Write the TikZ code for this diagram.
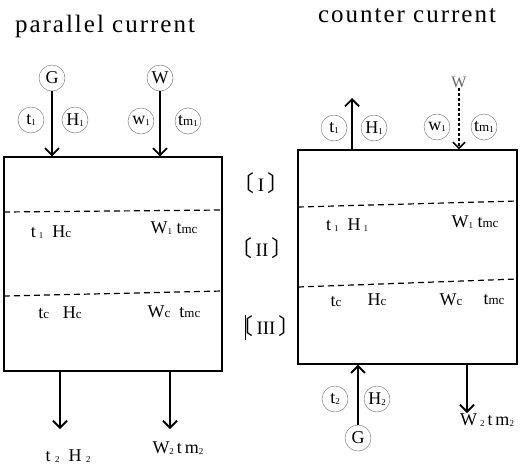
\documentclass[tikz,border=0pt]{standalone}
\usepackage{fontspec}
\setmainfont{Liberation Serif}
\newfontfamily\cjk{Noto Sans CJK JP}
\usetikzlibrary{arrows.meta}
\newcommand{\dsb}[1]{\raisebox{-0.15ex}{\fontsize{9}{9}\selectfont #1}}
\newcommand{\lsb}[1]{{\fontsize{13}{13}\selectfont #1}}
\newcommand{\brk}[1]{{\cjk\fontsize{22}{22}\selectfont 〔}\,#1\,{\cjk\fontsize{22}{22}\selectfont 〕}}
\begin{document}
\begin{tikzpicture}[x=1pt,y=-1pt,
  box/.style={draw, line width=1.4pt, inner sep=0pt},
  arr/.style={line width=1.8pt, -{Straight Barb[length=7pt,width=14pt,line width=1.8pt]}},
  circ/.style={circle, draw=black!50, line width=0.5pt, inner sep=0pt, minimum size=26pt, font=\fontsize{18}{18}\selectfont},
  lbl/.style={font=\fontsize{18}{18}\selectfont, inner sep=0pt},
  ttl/.style={font=\fontsize{25}{25}\selectfont\addfontfeature{LetterSpace=8}, inner sep=0pt},
  sepline/.style={dash pattern=on 6pt off 4pt, line width=1.2pt},
  rom/.style={font=\fontsize{19}{19}\selectfont, inner sep=0pt}]
\useasboundingbox (0,0) rectangle (521,467);

% titles
\node[ttl] (tl) at (105,26) {parallel current};
\node[ttl] (tr) at (407,16) {counter current};

% boxes
\node[box, minimum width=218pt, minimum height=214pt] (L) at (113,264) {};
\node[box, minimum width=219pt, minimum height=214pt] (R) at (407.5,257) {};

% dashed separators
\coordinate (la1) at (4,212); \coordinate (lb1) at (222,210);
\coordinate (la2) at (4,296); \coordinate (lb2) at (222,291);
\draw[sepline] (la1) -- (lb1);
\draw[sepline] (la2) -- (lb2);
\coordinate (ra1) at (298,207); \coordinate (rb1) at (517,201);
\coordinate (ra2) at (298,287); \coordinate (rb2) at (517,279);
\draw[sepline] (ra1) -- (rb1);
\draw[sepline] (ra2) -- (rb2);

% section labels
\node[rom] (s1) at (261,183) {\brk{I}};
\node[rom] (s2) at (262,248) {\brk{II}};
\node[rom] (s3) at (266,326) {\brk{III}};
\coordinate (bar1) at (245,315); \coordinate (bar2) at (245,340);
\draw[line width=1pt] (bar1) -- (bar2);

% ---- left top inputs
\node[circ] (G1) at (52,78) {G};
\node[circ] (W1) at (160,78) {W};
\draw[arr] (G1) -- (G1 |- L.north);
\draw[arr] (W1) -- (W1 |- L.north);
\node[circ] (t1a) at (31,120) {t\dsb{1}};
\node[circ] (H1a) at (75,120) {H\dsb{1}};
\node[circ] (w1a) at (141,121) {w\dsb{1}};
\node[circ] (tm1a) at (188,121) {t\lsb{m}\dsb{1}};

% ---- left inside
\node[lbl] (la) at (51,232) {t\,\dsb{1}\ \ H\lsb{c}};
\node[lbl] (lb) at (174,228) {W\dsb{1}\ t\lsb{mc}};
\node[lbl] (lc) at (60,313) {t\lsb{c}\ \ \ H\lsb{c}};
\node[lbl] (ld) at (174,312) {W\lsb{c}\ \ t\lsb{mc}};

% ---- left bottom outputs
\node[lbl] (o1) at (68,456) {t\ \dsb{2}\ \ H\ \dsb{2}};
\node[lbl] (o2) at (178,448) {W\dsb{2}\,t\,m\dsb{2}};
\coordinate (e1) at (60,429);
\coordinate (e2) at (170,429);
\draw[arr] (e1 |- L.south) -- (e1);
\draw[arr] (e2 |- L.south) -- (e2);

% ---- right top
\coordinate (up1) at (352,98);
\draw[arr] (up1 |- R.north) -- (up1);
\node[circ] (t1b) at (334,128) {t\dsb{1}};
\node[circ] (H1b) at (374,128) {H\dsb{1}};
\node[lbl, text=black!60, font=\fontsize{16}{16}\selectfont] (W2) at (459,82) {W};
\draw[line width=1.1pt, densely dashed, -{Straight Barb[length=6pt,width=12pt,line width=1.6pt]}] (W2) -- (W2 |- R.north);
\node[circ] (w1b) at (437,127) {w\dsb{1}};
\node[circ] (tm1b) at (484,127) {t\lsb{m}\dsb{1}};

% ---- right inside
\node[lbl] (ra) at (347,225) {t\,\dsb{1}\ \ H\,\dsb{1}};
\node[lbl] (rb) at (475,222) {W\dsb{1}\ t\lsb{mc}};
\node[lbl] (rc) at (336,302) {t\lsb{c}};
\node[lbl] (rd) at (377,300) {H\lsb{c}};
\node[lbl] (re) at (451,300) {W\lsb{c}};
\node[lbl] (rf) at (494,300) {t\lsb{mc}};

% ---- right bottom
\node[circ] (G2) at (358,438) {G};
\draw[arr] (G2) -- (G2 |- R.south);
\node[circ] (t2b) at (335,399) {t\dsb{2}};
\node[circ] (H2b) at (377,399) {H\dsb{2}};
\coordinate (e3) at (467,413);
\draw[arr] (e3 |- R.south) -- (e3);
\node[lbl] (o3) at (487,420) {W\,\dsb{2}\,t\,m\dsb{2}};
\end{tikzpicture}
\end{document}
